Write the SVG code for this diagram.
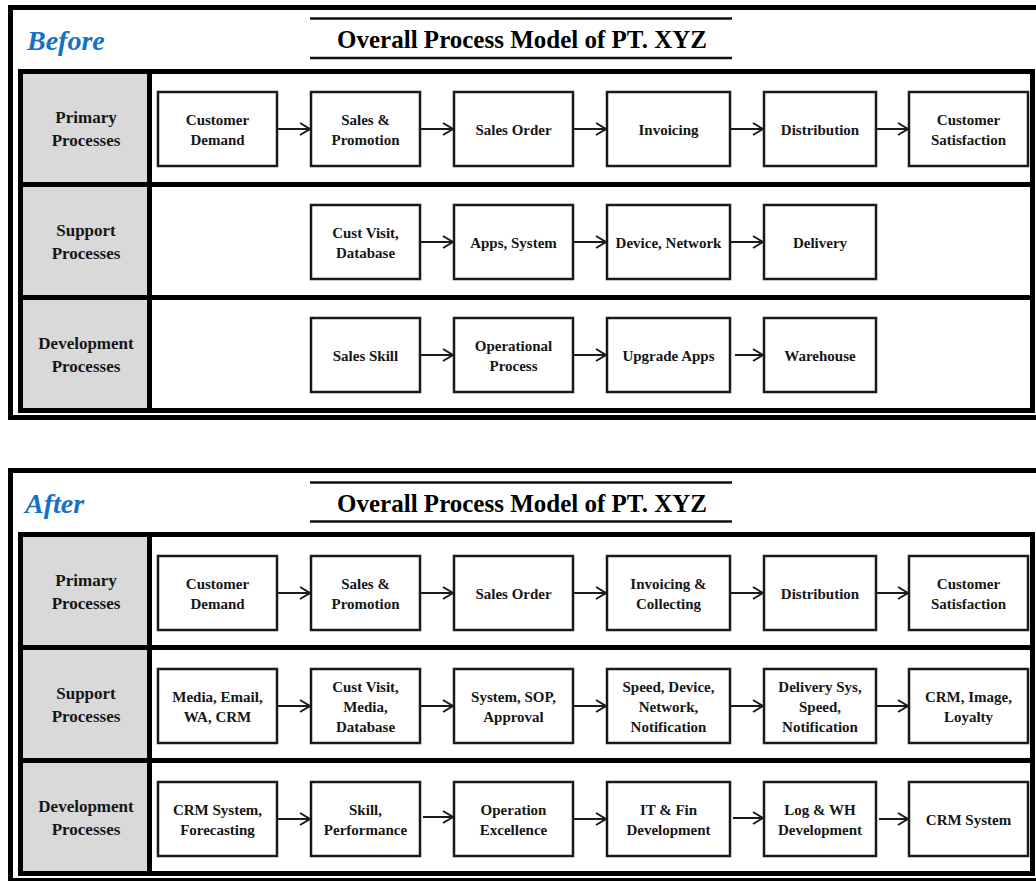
<svg xmlns="http://www.w3.org/2000/svg" width="1036" height="881" viewBox="0 0 1036 881">
<defs>
<style>
.frame{fill:none;stroke:#000;stroke-width:5}
.sep{stroke:#000;stroke-width:5}
.tline{stroke:#111;stroke-width:2.5}
.hdr{fill:#D9D9D9}
.box{fill:#fff;stroke:#1a1a1a;stroke-width:2.5}
.t{font-family:"Liberation Serif","Times New Roman",serif;font-weight:bold;font-size:15px;fill:#161616;text-anchor:middle}
.h{font-family:"Liberation Serif","Times New Roman",serif;font-weight:bold;font-size:17px;fill:#161616;text-anchor:middle}
.title{font-family:"Liberation Serif","Times New Roman",serif;font-weight:bold;font-size:25px;fill:#000;text-anchor:middle}
.tag{font-family:"Liberation Serif","Times New Roman",serif;font-weight:bold;font-style:italic;font-size:28px;fill:#1570C8}
.arr{stroke:#1a1a1a;stroke-width:2;fill:none;marker-end:url(#ah)}
</style>
<marker id="ah" markerUnits="userSpaceOnUse" markerWidth="14" markerHeight="16" refX="11" refY="7" orient="auto">
<path d="M1,1 L11,7 L1,13" fill="none" stroke="#1a1a1a" stroke-width="2"/>
</marker>
</defs>
<rect width="1036" height="881" fill="#fff"/>

<!-- BEFORE frame -->
<g id="before-frame">
<rect class="frame" x="10.5" y="7.5" width="1040" height="410"/>
<rect class="hdr" x="23" y="74" width="124" height="108"/>
<rect class="hdr" x="23" y="187" width="124" height="108"/>
<rect class="hdr" x="23" y="300" width="124" height="108"/>
<rect class="frame" x="20.5" y="71.5" width="1012" height="339"/>
<line class="sep" x1="149.5" y1="71.5" x2="149.5" y2="410.5"/>
<line class="sep" x1="20.5" y1="184.5" x2="1032.5" y2="184.5"/>
<line class="sep" x1="20.5" y1="297.5" x2="1032.5" y2="297.5"/>
<text class="tag" x="27" y="50">Before</text>
<line class="tline" x1="310" y1="18.5" x2="732" y2="18.5"/>
<line class="tline" x1="310" y1="58" x2="732" y2="58"/>
<text class="title" x="522" y="48">Overall Process Model of PT. XYZ</text>
<text class="h" x="86" y="123">Primary</text><text class="h" x="86" y="146">Processes</text>
<text class="h" x="86" y="236">Support</text><text class="h" x="86" y="259">Processes</text>
<text class="h" x="86" y="349">Development</text><text class="h" x="86" y="372">Processes</text>
</g>

<!-- AFTER frame -->
<g id="after-frame">
<rect class="frame" x="10.5" y="470.5" width="1040" height="410"/>
<rect class="hdr" x="23" y="537" width="124" height="108"/>
<rect class="hdr" x="23" y="650" width="124" height="108"/>
<rect class="hdr" x="23" y="763" width="124" height="108"/>
<rect class="frame" x="20.5" y="534.5" width="1012" height="339"/>
<line class="sep" x1="149.5" y1="534.5" x2="149.5" y2="873.5"/>
<line class="sep" x1="20.5" y1="647.5" x2="1032.5" y2="647.5"/>
<line class="sep" x1="20.5" y1="760.5" x2="1032.5" y2="760.5"/>
<text class="tag" x="25" y="513">After</text>
<line class="tline" x1="310" y1="482.5" x2="732" y2="482.5"/>
<line class="tline" x1="310" y1="521.5" x2="732" y2="521.5"/>
<text class="title" x="522" y="512">Overall Process Model of PT. XYZ</text>
<text class="h" x="86" y="586">Primary</text><text class="h" x="86" y="609">Processes</text>
<text class="h" x="86" y="699">Support</text><text class="h" x="86" y="722">Processes</text>
<text class="h" x="86" y="812">Development</text><text class="h" x="86" y="835">Processes</text>
</g>

<!-- BEFORE nodes -->
<g id="b-p1"><rect class="box" x="158" y="92" width="119" height="74"/><text class="t" x="217.5" y="125">Customer</text><text class="t" x="217.5" y="145">Demand</text></g>
<g id="b-p2"><rect class="box" x="311" y="92" width="109" height="74"/><text class="t" x="365.5" y="125">Sales &amp;</text><text class="t" x="365.5" y="145">Promotion</text></g>
<g id="b-p3"><rect class="box" x="454" y="92" width="119" height="74"/><text class="t" x="513.5" y="135">Sales Order</text></g>
<g id="b-p4"><rect class="box" x="607" y="92" width="123" height="74"/><text class="t" x="668.5" y="135">Invoicing</text></g>
<g id="b-p5"><rect class="box" x="764" y="92" width="112" height="74"/><text class="t" x="820" y="135">Distribution</text></g>
<g id="b-p6"><rect class="box" x="909" y="92" width="119" height="74"/><text class="t" x="968.5" y="125">Customer</text><text class="t" x="968.5" y="145">Satisfaction</text></g>

<g id="b-s2"><rect class="box" x="311" y="205" width="109" height="74"/><text class="t" x="365.5" y="238">Cust Visit,</text><text class="t" x="365.5" y="258">Database</text></g>
<g id="b-s3"><rect class="box" x="454" y="205" width="119" height="74"/><text class="t" x="513.5" y="248">Apps, System</text></g>
<g id="b-s4"><rect class="box" x="607" y="205" width="123" height="74"/><text class="t" x="668.5" y="248">Device, Network</text></g>
<g id="b-s5"><rect class="box" x="764" y="205" width="112" height="74"/><text class="t" x="820" y="248">Delivery</text></g>

<g id="b-d2"><rect class="box" x="311" y="318" width="109" height="74"/><text class="t" x="365.5" y="361">Sales Skill</text></g>
<g id="b-d3"><rect class="box" x="454" y="318" width="119" height="74"/><text class="t" x="513.5" y="351">Operational</text><text class="t" x="513.5" y="371">Process</text></g>
<g id="b-d4"><rect class="box" x="607" y="318" width="123" height="74"/><text class="t" x="668.5" y="361">Upgrade Apps</text></g>
<g id="b-d5"><rect class="box" x="764" y="318" width="112" height="74"/><text class="t" x="820" y="361">Warehouse</text></g>

<!-- AFTER nodes -->
<g id="a-p1"><rect class="box" x="158" y="556" width="119" height="74"/><text class="t" x="217.5" y="589">Customer</text><text class="t" x="217.5" y="609">Demand</text></g>
<g id="a-p2"><rect class="box" x="311" y="556" width="109" height="74"/><text class="t" x="365.5" y="589">Sales &amp;</text><text class="t" x="365.5" y="609">Promotion</text></g>
<g id="a-p3"><rect class="box" x="454" y="556" width="119" height="74"/><text class="t" x="513.5" y="599">Sales Order</text></g>
<g id="a-p4"><rect class="box" x="607" y="556" width="123" height="74"/><text class="t" x="668.5" y="589">Invoicing &amp;</text><text class="t" x="668.5" y="609">Collecting</text></g>
<g id="a-p5"><rect class="box" x="764" y="556" width="112" height="74"/><text class="t" x="820" y="599">Distribution</text></g>
<g id="a-p6"><rect class="box" x="909" y="556" width="119" height="74"/><text class="t" x="968.5" y="589">Customer</text><text class="t" x="968.5" y="609">Satisfaction</text></g>

<g id="a-s1"><rect class="box" x="158" y="669" width="119" height="74"/><text class="t" x="217.5" y="702">Media, Email,</text><text class="t" x="217.5" y="722">WA, CRM</text></g>
<g id="a-s2"><rect class="box" x="311" y="669" width="109" height="74"/><text class="t" x="365.5" y="692">Cust Visit,</text><text class="t" x="365.5" y="712">Media,</text><text class="t" x="365.5" y="732">Database</text></g>
<g id="a-s3"><rect class="box" x="454" y="669" width="119" height="74"/><text class="t" x="513.5" y="702">System, SOP,</text><text class="t" x="513.5" y="722">Approval</text></g>
<g id="a-s4"><rect class="box" x="607" y="669" width="123" height="74"/><text class="t" x="668.5" y="692">Speed, Device,</text><text class="t" x="668.5" y="712">Network,</text><text class="t" x="668.5" y="732">Notification</text></g>
<g id="a-s5"><rect class="box" x="764" y="669" width="112" height="74"/><text class="t" x="820" y="692">Delivery Sys,</text><text class="t" x="820" y="712">Speed,</text><text class="t" x="820" y="732">Notification</text></g>
<g id="a-s6"><rect class="box" x="909" y="669" width="119" height="74"/><text class="t" x="968.5" y="702">CRM, Image,</text><text class="t" x="968.5" y="722">Loyalty</text></g>

<g id="a-d1"><rect class="box" x="158" y="782" width="119" height="74"/><text class="t" x="217.5" y="815">CRM System,</text><text class="t" x="217.5" y="835">Forecasting</text></g>
<g id="a-d2"><rect class="box" x="311" y="782" width="109" height="74"/><text class="t" x="365.5" y="815">Skill,</text><text class="t" x="365.5" y="835">Performance</text></g>
<g id="a-d3"><rect class="box" x="454" y="782" width="119" height="74"/><text class="t" x="513.5" y="815">Operation</text><text class="t" x="513.5" y="835">Excellence</text></g>
<g id="a-d4"><rect class="box" x="607" y="782" width="123" height="74"/><text class="t" x="668.5" y="815">IT &amp; Fin</text><text class="t" x="668.5" y="835">Development</text></g>
<g id="a-d5"><rect class="box" x="764" y="782" width="112" height="74"/><text class="t" x="820" y="815">Log &amp; WH</text><text class="t" x="820" y="835">Development</text></g>
<g id="a-d6"><rect class="box" x="909" y="782" width="119" height="74"/><text class="t" x="968.5" y="825">CRM System</text></g>

<!-- connectors -->
<g id="connectors">
<line class="arr" x1="278" y1="129" x2="310" y2="129"/>
<line class="arr" x1="421" y1="129" x2="453" y2="129"/>
<line class="arr" x1="574" y1="129" x2="606" y2="129"/>
<line class="arr" x1="731" y1="129" x2="763" y2="129"/>
<line class="arr" x1="877" y1="129" x2="908" y2="129"/>

<line class="arr" x1="421" y1="242" x2="453" y2="242"/>
<line class="arr" x1="574" y1="242" x2="606" y2="242"/>
<line class="arr" x1="731" y1="242" x2="763" y2="242"/>

<line class="arr" x1="421" y1="355" x2="453" y2="355"/>
<line class="arr" x1="574" y1="355" x2="606" y2="355"/>
<line class="arr" x1="735" y1="355" x2="763" y2="355"/>

<line class="arr" x1="278" y1="593" x2="310" y2="593"/>
<line class="arr" x1="421" y1="593" x2="453" y2="593"/>
<line class="arr" x1="574" y1="593" x2="606" y2="593"/>
<line class="arr" x1="731" y1="593" x2="763" y2="593"/>
<line class="arr" x1="877" y1="593" x2="908" y2="593"/>

<line class="arr" x1="278" y1="706" x2="310" y2="706"/>
<line class="arr" x1="421" y1="706" x2="453" y2="706"/>
<line class="arr" x1="574" y1="706" x2="606" y2="706"/>
<line class="arr" x1="731" y1="706" x2="763" y2="706"/>
<line class="arr" x1="877" y1="706" x2="908" y2="706"/>

<line class="arr" x1="278" y1="819" x2="310" y2="819"/>
<line class="arr" x1="423" y1="817" x2="453" y2="817"/>
<line class="arr" x1="574" y1="819" x2="606" y2="819"/>
<line class="arr" x1="733" y1="818" x2="763" y2="818"/>
<line class="arr" x1="879" y1="819" x2="908" y2="819"/>
</g>
</svg>
